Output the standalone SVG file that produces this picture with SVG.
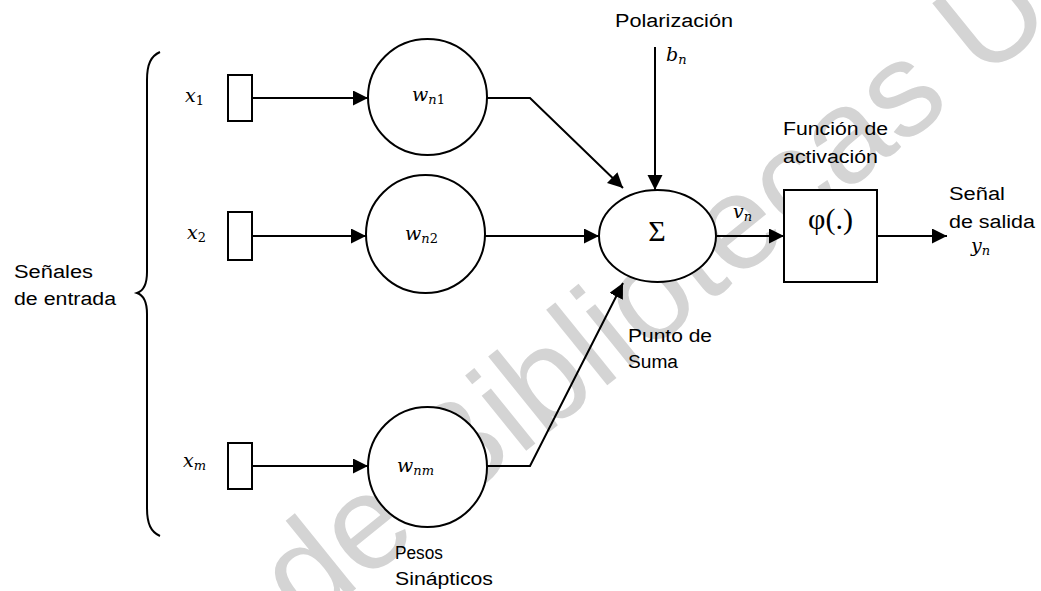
<svg xmlns="http://www.w3.org/2000/svg" width="1041" height="591" viewBox="0 0 1041 591">
  <style>
    .ln { fill: none; stroke: #000; stroke-width: 2; }
    .shape { fill: #fff; stroke: #000; stroke-width: 2; }
    .lbl { font-family: "Liberation Sans", Arial, sans-serif; font-size: 18px; fill: #000; }
    .m { font-family: "DejaVu Serif", "Liberation Serif", serif; font-style: italic; font-size: 19px; fill: #000; }
    .sub { font-size: 13px; }
    .up { font-style: normal; }
    .sym { font-family: "Liberation Serif", "Times New Roman", serif; font-size: 30px; fill: #000; }
    .wm { font-family: "Liberation Sans", Arial, sans-serif; font-size: 134px; fill: #d4d4d4; }
  </style>
  <defs>
    <marker id="arrow" markerUnits="userSpaceOnUse" markerWidth="16" markerHeight="16" refX="15" refY="7.5" orient="auto">
      <path d="M0,0 L15,7.5 L0,15 z" fill="#000"/>
    </marker>
  </defs>
  <rect width="1041" height="591" fill="#fff"/>

  <!-- background stamp -->
  <g id="stamp">
    <text class="wm" transform="translate(305,630) rotate(-39)">de Bibliotecas UA</text>
  </g>

  <!-- input brace -->
  <g id="brace">
    <path class="ln" d="M160,52 C151,56 147,64 147,80 L147,272 C147,285 143,291 137,293 C143,295 147,301 147,314 L147,508 C147,524 151,532 160,536"/>
    <text class="lbl" x="14" y="278" textLength="79" lengthAdjust="spacingAndGlyphs">Señales</text>
    <text class="lbl" x="14" y="305" textLength="102" lengthAdjust="spacingAndGlyphs">de entrada</text>
  </g>

  <!-- inputs -->
  <g id="in1">
    <rect class="shape" x="228" y="75" width="24" height="46"/>
    <text class="m" x="185" y="102">x<tspan class="sub up" dy="3">1</tspan></text>
  </g>
  <g id="in2">
    <rect class="shape" x="228" y="212" width="24" height="48"/>
    <text class="m" x="187" y="239">x<tspan class="sub up" dy="3">2</tspan></text>
  </g>
  <g id="inm">
    <rect class="shape" x="228" y="443" width="24" height="46"/>
    <text class="m" x="183" y="467">x<tspan class="sub" dy="3">m</tspan></text>
  </g>

  <!-- synaptic weights -->
  <g id="w1">
    <ellipse class="shape" cx="427.5" cy="97" rx="59.5" ry="58"/>
    <text class="m" x="412" y="101">w<tspan class="sub" dy="3">n</tspan><tspan class="sub up">1</tspan></text>
  </g>
  <g id="w2">
    <ellipse class="shape" cx="425.5" cy="234" rx="59.5" ry="59"/>
    <text class="m" x="405" y="240">w<tspan class="sub" dy="3">n</tspan><tspan class="sub up">2</tspan></text>
  </g>
  <g id="wm">
    <ellipse class="shape" cx="427.5" cy="467" rx="59.5" ry="60"/>
    <text class="m" x="397" y="472">w<tspan class="sub" dy="3">nm</tspan></text>
    <text class="lbl" x="395" y="559" textLength="48" lengthAdjust="spacingAndGlyphs">Pesos</text>
    <text class="lbl" x="395" y="585" textLength="98" lengthAdjust="spacingAndGlyphs">Sinápticos</text>
  </g>

  <!-- summing junction -->
  <g id="sum">
    <ellipse class="shape" cx="657.5" cy="236" rx="58.5" ry="46"/>
    <text class="sym" x="657" y="241" text-anchor="middle">Σ</text>
    <text class="lbl" x="628" y="342" textLength="84" lengthAdjust="spacingAndGlyphs">Punto de</text>
    <text class="lbl" x="628" y="368" textLength="50" lengthAdjust="spacingAndGlyphs">Suma</text>
  </g>

  <!-- bias -->
  <g id="bias">
    <text class="lbl" x="615" y="27" textLength="118" lengthAdjust="spacingAndGlyphs">Polarización</text>
    <text class="m" x="666" y="61">b<tspan class="sub" dy="3">n</tspan></text>
  </g>

  <!-- activation function -->
  <g id="act">
    <rect class="shape" x="784" y="190" width="93" height="92"/>
    <text class="sym" x="808" y="229" font-size="24" textLength="45" lengthAdjust="spacingAndGlyphs">φ(.)</text>
    <text class="lbl" x="783" y="135" textLength="105" lengthAdjust="spacingAndGlyphs">Función de</text>
    <text class="lbl" x="783" y="163" textLength="95" lengthAdjust="spacingAndGlyphs">activación</text>
  </g>

  <!-- output -->
  <g id="out">
    <text class="lbl" x="949" y="200" textLength="56" lengthAdjust="spacingAndGlyphs">Señal</text>
    <text class="lbl" x="949" y="228" textLength="86" lengthAdjust="spacingAndGlyphs">de salida</text>
    <text class="m" x="971" y="252">y<tspan class="sub" dy="3">n</tspan></text>
  </g>

  <!-- connectors -->
  <g id="connectors">
    <path class="ln" d="M252,98 L368,98" marker-end="url(#arrow)"/>
    <path class="ln" d="M252,236 L366,236" marker-end="url(#arrow)"/>
    <path class="ln" d="M252,466 L368,466" marker-end="url(#arrow)"/>
    <path class="ln" d="M487,98 L530,98 L623,188" marker-end="url(#arrow)"/>
    <path class="ln" d="M485,236 L599,236" marker-end="url(#arrow)"/>
    <path class="ln" d="M487,466 L530,466 L623,283" marker-end="url(#arrow)"/>
    <path class="ln" d="M655,47 L655,190" marker-end="url(#arrow)"/>
    <text class="m" x="733" y="218">v<tspan class="sub" dy="3">n</tspan></text>
    <path class="ln" d="M716,236 L784,236" marker-end="url(#arrow)"/>
    <path class="ln" d="M877,236 L947,236" marker-end="url(#arrow)"/>
  </g>
</svg>
